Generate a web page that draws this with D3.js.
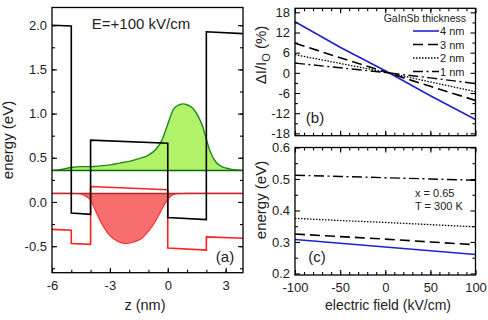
<!DOCTYPE html>
<html><head><meta charset="utf-8">
<script src="https://cdn.jsdelivr.net/npm/d3@7"></script>
<style>
html,body{margin:0;padding:0;background:#fff;}
svg{display:block;font-family:"Liberation Sans",Arial,sans-serif;}
</style></head>
<body><svg id="c" width="488" height="320"></svg>
<script>
// ---------- data: panel (a) ----------
const bandZ = [-6, -5, -5, -4, -4, 0, 0, 2, 2, 3.9];
const condE = [2.0, 1.99, -0.125, -0.14, 0.70, 0.665, -0.175, -0.20, 1.925, 1.905];
const valE  = [-0.31, -0.32, -0.47, -0.48, 0.175, 0.138, -0.52, -0.545, -0.395, -0.41];
const elecLevel = 0.355;
const holeLevel = 0.097;
const elecZ   = [-6, -5.5, -5, -4.5, -4, -3.5, -3, -2.5, -2, -1.5, -1, -0.6, -0.3, 0, 0.3, 0.6, 0.8, 1.0, 1.3, 1.6, 1.8, 2.0, 2.2, 2.5, 2.8, 3.2, 3.6, 3.9];
const elecPsi = [0.357, 0.368, 0.39, 0.40, 0.40, 0.408, 0.42, 0.44, 0.46, 0.49, 0.53, 0.60, 0.70, 0.88, 1.05, 1.10, 1.11, 1.10, 1.06, 0.96, 0.86, 0.71, 0.57, 0.45, 0.40, 0.375, 0.362, 0.358];
const holeZ   = [-6, -5, -4.6, -4.3, -4.0, -3.8, -3.6, -3.3, -3.0, -2.6, -2.2, -1.8, -1.4, -1.0, -0.7, -0.4, -0.2, 0, 0.2, 0.5, 1.0, 3.9];
const holePsi = [0.097, 0.097, 0.093, 0.07, 0.02, -0.07, -0.17, -0.29, -0.38, -0.445, -0.47, -0.455, -0.42, -0.33, -0.24, -0.12, -0.04, 0.03, 0.075, 0.093, 0.097, 0.097];
const aXTicks = [-6, -3, 0, 3];
const aYTicks = [-0.5, 0.0, 0.5, 1.0, 1.5, 2.0];

// ---------- data: panels (b) and (c) ----------
const field = [-100, -50, 0, 50, 100];
const thickness = ["4 nm", "3 nm", "2 nm", "1 nm"];
const dI4 = [15.2, 7.6, 0.6, -6.8, -13.9];
const dI3 = [8.8, 4.5, 0.25, -4.0, -8.2];
const dI2 = [5.4, 2.8, 0.2, -2.7, -5.6];
const dI1 = [2.9, 1.5, 0.1, -1.5, -3.2];
const en4 = [0.308, 0.296, 0.284, 0.272, 0.260];
const en3 = [0.325, 0.317, 0.309, 0.300, 0.291];
const en2 = [0.375, 0.368, 0.362, 0.355, 0.348];
const en1 = [0.512, 0.508, 0.504, 0.500, 0.496];
const bYTicks = [-18, -12, -6, 0, 6, 12, 18];
const cYTicks = [0.2, 0.3, 0.4, 0.5, 0.6];
const fieldTicks = [-100, -50, 0, 50, 100];

// ---------- drawing ----------
const svg = d3.select("#c");
const tickFont = 13;
const hy = f => (v => f(v).replace("\u2212", "-"));

const styles = [
  {color:"#2020d0", dash:null, w:1.6},
  {color:"#000", dash:"10,5", w:1.6},
  {color:"#000", dash:"1.5,1.5", w:1.3},
  {color:"#000", dash:"10,3.5,2,3.5", w:1.4}
];

function frame(x0, y0, x1, y1) {
  svg.append("rect").attr("x", x0).attr("y", y0).attr("width", x1 - x0).attr("height", y1 - y0)
    .attr("fill", "none").attr("stroke", "#000").attr("stroke-width", 1.3);
}
function styleAxis(g, labels) {
  g.select(".domain").remove();
  g.selectAll(".tick line").attr("stroke", "#000").attr("stroke-width", 1.1);
  g.selectAll(".tick text").attr("font-size", tickFont).attr("font-family", '"Liberation Sans",Arial,sans-serif').attr("fill", "#222");
  if (!labels) g.selectAll(".tick text").remove();
}
function ticksX(scale, yPos, major, minor, fmt, labelsBottom, top) {
  const gmin = svg.append("g").attr("transform", `translate(0,${yPos})`)
    .call((top ? d3.axisTop(scale) : d3.axisBottom(scale)).tickValues(minor).tickSize(-3));
  styleAxis(gmin, false);
  const g = svg.append("g").attr("transform", `translate(0,${yPos})`)
    .call((top ? d3.axisTop(scale) : d3.axisBottom(scale)).tickValues(major).tickSize(-5).tickPadding(8).tickFormat(fmt ? hy(fmt) : null));
  styleAxis(g, labelsBottom);
}
function ticksY(scale, xPos, major, minor, fmt, labels, right) {
  const gmin = svg.append("g").attr("transform", `translate(${xPos},0)`)
    .call((right ? d3.axisRight(scale) : d3.axisLeft(scale)).tickValues(minor).tickSize(-3));
  styleAxis(gmin, false);
  const g = svg.append("g").attr("transform", `translate(${xPos},0)`)
    .call((right ? d3.axisRight(scale) : d3.axisLeft(scale)).tickValues(major).tickSize(-5).tickPadding(5).tickFormat(fmt ? hy(fmt) : null));
  styleAxis(g, labels);
}

// ===== panel (a) =====
const aL = 52, aR = 243, aT = 7.5, aB = 272.7;
const xA = d3.scaleLinear().domain([-6, 3.9]).range([aL, aR]);
const yA = d3.scaleLinear().domain([-0.8, 2.2]).range([aB, aT]);
const gA = svg.append("g");
const elec = elecZ.map((z, i) => [z, elecPsi[i]]);
const hole = holeZ.map((z, i) => [z, holePsi[i]]);
gA.append("path").datum(elec)
  .attr("d", d3.area().curve(d3.curveMonotoneX).x(d => xA(d[0])).y0(yA(elecLevel)).y1(d => yA(d[1])))
  .attr("fill", "#b2f26a");
gA.append("path").datum(elec)
  .attr("d", d3.line().curve(d3.curveMonotoneX).x(d => xA(d[0])).y(d => yA(d[1])))
  .attr("fill", "none").attr("stroke", "#1f8a1f").attr("stroke-width", 1.4);
gA.append("path").datum(hole)
  .attr("d", d3.area().curve(d3.curveMonotoneX).x(d => xA(d[0])).y0(yA(holeLevel)).y1(d => yA(d[1])))
  .attr("fill", "#f66e6e");
gA.append("path").datum(hole)
  .attr("d", d3.line().curve(d3.curveMonotoneX).x(d => xA(d[0])).y(d => yA(d[1])))
  .attr("fill", "none").attr("stroke", "#ff3030").attr("stroke-width", 1.2);
gA.append("line").attr("x1", xA(-6)).attr("x2", xA(3.9)).attr("y1", yA(elecLevel)).attr("y2", yA(elecLevel))
  .attr("stroke", "#0a6a0a").attr("stroke-width", 1.5);
gA.append("line").attr("x1", xA(-6)).attr("x2", xA(3.9)).attr("y1", yA(holeLevel)).attr("y2", yA(holeLevel))
  .attr("stroke", "#c02828").attr("stroke-width", 1.5);
const bandLine = arr => d3.line().x((d, i) => xA(bandZ[i])).y(d => yA(d))(arr);
gA.append("path").attr("d", bandLine(valE)).attr("fill", "none").attr("stroke", "#ff2020").attr("stroke-width", 1.6);
gA.append("path").attr("d", bandLine(condE)).attr("fill", "none").attr("stroke", "#000").attr("stroke-width", 1.6);

frame(aL, aT, aR, aB);
ticksX(xA, aB, aXTicks, d3.range(-5, 4, 1), d3.format("d"), true, false);
ticksY(yA, aL, aYTicks, d3.range(-0.75, 2.2, 0.25), d3.format(".1f"), true, false);
ticksY(yA, aR, aYTicks, d3.range(-0.75, 2.2, 0.25), d3.format(".1f"), false, true);

svg.append("text").attr("x", 141).attr("y", 28.5).attr("text-anchor", "middle").attr("font-size", 15).attr("fill", "#222").text("E=+100 kV/cm");
svg.append("text").attr("x", 225).attr("y", 262).attr("text-anchor", "middle").attr("font-size", 15).attr("fill", "#222").text("(a)");
svg.append("text").attr("x", 145).attr("y", 310).attr("text-anchor", "middle").attr("font-size", 14.5).attr("fill", "#222").text("z (nm)");
svg.append("text").attr("transform", "translate(13,140) rotate(-90)").attr("text-anchor", "middle").attr("font-size", 15).attr("fill", "#222").text("energy (eV)");

// ===== panel (b) =====
const bL = 295, bR = 475.5, bT = 8.3, bB = 135.7;
const xB = d3.scaleLinear().domain([-100, 100]).range([bL, bR]);
const yB = d3.scaleLinear().domain([-18.7, 19.2]).range([bB, bT]);
const dISeries = [dI4, dI3, dI2, dI1];
dISeries.forEach((s, k) => {
  svg.append("path").attr("d", d3.line().x((d, i) => xB(field[i])).y(d => yB(d))(s))
    .attr("fill", "none").attr("stroke", styles[k].color).attr("stroke-width", styles[k].w)
    .attr("stroke-dasharray", styles[k].dash);
});
frame(bL, bT, bR, bB);
const minorField = d3.range(-90, 100, 10);
ticksX(xB, bB, fieldTicks, minorField, null, false, false);
ticksX(xB, bT, fieldTicks, minorField, null, false, true);
ticksY(yB, bL, bYTicks, d3.range(-15, 19, 6), d3.format("d"), true, false);
ticksY(yB, bR, bYTicks, d3.range(-15, 19, 6), null, false, true);

// legend
svg.append("text").attr("x", 466).attr("y", 21.5).attr("text-anchor", "end").attr("font-size", 10.5).attr("fill", "#222").text("GaInSb thickness");
const legY = [31, 44.5, 58, 71.5];
thickness.forEach((t, k) => {
  svg.append("line").attr("x1", 413).attr("x2", 439).attr("y1", legY[k]).attr("y2", legY[k])
    .attr("stroke", styles[k].color).attr("stroke-width", styles[k].w).attr("stroke-dasharray", styles[k].dash);
  svg.append("text").attr("x", 440).attr("y", legY[k] + 4).attr("font-size", 11).attr("fill", "#222").text(t);
});
svg.append("text").attr("x", 315).attr("y", 123).attr("text-anchor", "middle").attr("font-size", 15).attr("fill", "#222").text("(b)");
const lab = svg.append("text").attr("transform", "translate(266,55) rotate(-90)").attr("text-anchor", "middle").attr("font-size", 15).attr("fill", "#222");
lab.append("tspan").text("ΔI/I");
lab.append("tspan").attr("font-size", 11).attr("dy", 4).text("O");
lab.append("tspan").attr("dy", -4).text(" (%)");

// ===== panel (c) =====
const cL = 295, cR = 475.5, cT = 147.5, cB = 275;
const xC = d3.scaleLinear().domain([-100, 100]).range([cL, cR]);
const yC = d3.scaleLinear().domain([0.195, 0.6]).range([cB, cT]);
const enSeries = [en4, en3, en2, en1];
enSeries.forEach((s, k) => {
  svg.append("path").attr("d", d3.line().x((d, i) => xC(field[i])).y(d => yC(d))(s))
    .attr("fill", "none").attr("stroke", styles[k].color).attr("stroke-width", styles[k].w)
    .attr("stroke-dasharray", styles[k].dash);
});
frame(cL, cT, cR, cB);
ticksX(xC, cB, fieldTicks, minorField, d3.format("d"), true, false);
ticksX(xC, cT, fieldTicks, minorField, null, false, true);
ticksY(yC, cL, cYTicks, d3.range(0.25, 0.6, 0.1), d3.format(".1f"), true, false);
ticksY(yC, cR, cYTicks, d3.range(0.25, 0.6, 0.1), null, false, true);
svg.append("text").attr("x", 415).attr("y", 197).attr("font-size", 11).attr("fill", "#222").text("x = 0.65");
svg.append("text").attr("x", 415).attr("y", 210).attr("font-size", 11).attr("fill", "#222").text("T = 300 K");
svg.append("text").attr("x", 317).attr("y", 262).attr("text-anchor", "middle").attr("font-size", 15).attr("fill", "#222").text("(c)");
svg.append("text").attr("x", 388).attr("y", 310).attr("text-anchor", "middle").attr("font-size", 14).attr("fill", "#222").text("electric field (kV/cm)");
svg.append("text").attr("transform", "translate(266,200) rotate(-90)").attr("text-anchor", "middle").attr("font-size", 15).attr("fill", "#222").text("energy (eV)");
</script></body></html>
